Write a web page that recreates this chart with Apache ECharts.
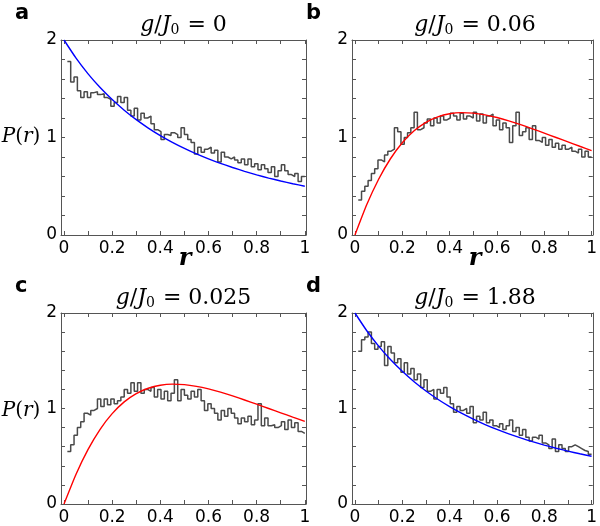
<!DOCTYPE html>
<html>
<head>
<meta charset="utf-8">
<script src="https://cdn.jsdelivr.net/npm/echarts@6/dist/echarts.min.js"></script>
<style>
  html, body { margin: 0; padding: 0; background: #fff; }
  #chart { width: 600px; height: 526px; }
</style>
</head>
<body>
<div id="chart"></div>
<script>
// 直方图：第一根柱从 r = 1/72 开始，每根宽 1/72
const binWidth = 1 / 72;

// a: g/J0 = 0
const histA = [
  1.78, 1.57, 1.62, 1.48, 1.41, 1.47, 1.41, 1.46, 1.47, 1.44,
  1.45, 1.41, 1.39, 1.32, 1.36, 1.42, 1.36, 1.41, 1.28, 1.22,
  1.30, 1.18, 1.25, 1.20, 1.22, 1.14, 1.08, 1.06, 0.98, 1.03,
  1.02, 1.05, 1.03, 1.00, 1.10, 1.03, 0.98, 0.95, 0.83, 0.90,
  0.85, 0.88, 0.90, 0.84, 0.87, 0.75, 0.85, 0.80, 0.78, 0.80,
  0.77, 0.74, 0.78, 0.72, 0.78, 0.70, 0.73, 0.67, 0.72, 0.68,
  0.64, 0.70, 0.60, 0.66, 0.72, 0.66, 0.62, 0.60, 0.63, 0.55,
  0.60
];
// b: g/J0 = 0.06
const histB = [
  0.36, 0.45, 0.50, 0.56, 0.63, 0.68, 0.77, 0.75, 0.82, 0.86,
  0.88, 1.10, 1.06, 0.93, 1.00, 1.05, 1.10, 1.26, 1.08, 1.10,
  1.15, 1.19, 1.12, 1.20, 1.15, 1.22, 1.18, 1.20, 1.25, 1.22,
  1.18, 1.25, 1.19, 1.22, 1.20, 1.26, 1.17, 1.24, 1.15, 1.22,
  1.24, 1.12, 1.18, 1.08, 1.15, 1.10, 0.95, 1.12, 1.26, 1.02,
  1.06, 1.10, 0.98, 1.12, 0.97, 0.95, 1.00, 0.92, 0.98, 0.90,
  0.94, 0.88, 0.92, 0.88, 0.90, 0.86, 0.84, 0.88, 0.80, 0.86,
  0.80
];
// c: g/J0 = 0.025
const histC = [
  0.55, 0.62, 0.72, 0.80, 0.86, 0.95, 0.93, 0.98, 1.00, 1.10,
  1.02, 1.10, 1.04, 1.10, 1.05, 1.08, 1.12, 1.20, 1.16, 1.27,
  1.18, 1.27, 1.16, 1.20, 1.18, 1.22, 1.12, 1.20, 1.10, 1.18,
  1.08, 1.16, 1.30, 1.08, 1.20, 1.14, 1.10, 1.18, 1.12, 1.20,
  1.08, 0.98, 1.05, 1.00, 0.95, 0.88, 0.98, 0.92, 1.00, 0.95,
  0.90, 0.84, 0.90, 0.86, 0.92, 0.83, 0.88, 1.05, 0.82, 0.90,
  0.82, 0.83, 0.80, 0.82, 0.86, 0.78, 0.88, 0.80, 0.85, 0.76,
  0.74
];
// d: g/J0 = 1.88
const histD = [
  1.60, 1.72, 1.75, 1.80, 1.68, 1.62, 1.65, 1.70, 1.45, 1.65,
  1.58, 1.48, 1.52, 1.38, 1.48, 1.36, 1.42, 1.30, 1.36, 1.22,
  1.30, 1.18, 1.20, 1.10, 1.20, 1.16, 1.22, 1.12, 1.05, 0.96,
  1.02, 0.98, 1.00, 0.95, 1.02, 0.85, 0.92, 0.88, 0.96, 0.85,
  0.88, 0.82, 0.80, 0.84, 0.78, 0.82, 0.88, 0.76, 0.80, 0.72,
  0.78, 0.70, 0.66, 0.70, 0.68, 0.72, 0.64, 0.62, 0.58, 0.68,
  0.55, 0.62, 0.58, 0.55, 0.60, 0.62, 0.60, 0.58, 0.56, 0.55,
  0.52
];

// 理论曲线（从图上读取，r 每 0.05 一个点）
const curveR = [0, 0.05, 0.1, 0.15, 0.2, 0.25, 0.3, 0.35, 0.4, 0.45, 0.5,
  0.55, 0.6, 0.65, 0.7, 0.75, 0.8, 0.85, 0.9, 0.95, 1];
const blueCurve = [2.000, 1.814, 1.653, 1.512, 1.389, 1.280, 1.183, 1.097, 1.020, 0.951, 0.889,
  0.832, 0.781, 0.734, 0.692, 0.653, 0.617, 0.584, 0.554, 0.526, 0.500];
const redCurve = [0.000, 0.312, 0.572, 0.782, 0.946, 1.069, 1.156, 1.212, 1.244, 1.255, 1.250,
  1.232, 1.205, 1.171, 1.132, 1.089, 1.045, 1.000, 0.955, 0.910, 0.866];

const panelLetters = ['a', 'b', 'c', 'd'];
const panelValues = ['0', '0.06', '0.025', '1.88'];
const xTicks = [0, 0.1, 0.2, 0.3, 0.4, 0.5, 0.6, 0.7, 0.8, 0.9, 1];
const xLabels = [0, 0.2, 0.4, 0.6, 0.8, 1];
const yLabels = [0, 1, 2];

const panels = [
  { hist: histA, curve: blueCurve, color: '#0000ff', grid: { left: 61, top: 40, width: 245, height: 195 } },
  { hist: histB, curve: redCurve, color: '#ff0000', grid: { left: 352, top: 40, width: 246, height: 195 } },
  { hist: histC, curve: redCurve, color: '#ff0000', grid: { left: 61, top: 313, width: 245, height: 195 } },
  { hist: histD, curve: blueCurve, color: '#0000ff', grid: { left: 352, top: 313, width: 246, height: 195 } }
];

const frameColor = '#555';
const serif = 'DejaVu Serif';

const chart = echarts.init(document.getElementById('chart'));

const grids = [], xAxes = [], yAxes = [], series = [], graphics = [];

panels.forEach((p, i) => {
  grids.push(p.grid);

  const xBase = {
    gridIndex: i, type: 'value', min: -0.0125, max: 1.005,
    axisLine: { onZero: false, lineStyle: { color: frameColor, width: 1 } },
    axisTick: { inside: true, length: 4, customValues: xTicks, lineStyle: { color: frameColor } },
    splitLine: { show: false }
  };
  xAxes.push(Object.assign({}, xBase, {
    position: 'bottom',
    axisLabel: { customValues: xLabels, margin: 5, fontFamily: 'DejaVu Sans', fontSize: 17, color: '#000' }
  }));
  xAxes.push(Object.assign({}, xBase, { position: 'top', axisLabel: { show: false } }));

  const yBase = {
    gridIndex: i, type: 'value', min: 0, max: 2, interval: 0.2,
    axisLine: { onZero: false, lineStyle: { color: frameColor, width: 1 } },
    axisTick: { inside: true, length: 4, lineStyle: { color: frameColor } },
    splitLine: { show: false }
  };
  yAxes.push(Object.assign({}, yBase, {
    position: 'left',
    axisLabel: { customValues: yLabels, margin: 4, fontFamily: 'DejaVu Sans', fontSize: 17, color: '#000' }
  }));
  yAxes.push(Object.assign({}, yBase, { position: 'right', axisLabel: { show: false } }));

  const histData = p.hist.map((v, k) => [(k + 1) * binWidth, v]);
  histData.push([1, p.hist[p.hist.length - 1]]);
  series.push({
    type: 'line', xAxisIndex: 2 * i, yAxisIndex: 2 * i,
    data: histData, step: 'end', showSymbol: false, animation: false,
    lineStyle: { color: '#4a4a4a', width: 1.5 }
  });
  series.push({
    type: 'line', xAxisIndex: 2 * i, yAxisIndex: 2 * i,
    data: curveR.map((r, k) => [r, p.curve[k]]), smooth: 0.2, showSymbol: false, animation: false,
    lineStyle: { color: p.color, width: 1.4 }
  });

  // 标题 g/J0 = ...
  const cx = p.grid.left + p.grid.width / 2;
  graphics.push({
    type: 'text', x: cx, y: p.grid.top - 15,
    style: {
      text: '{i|g}{n|/}{i|J}{s|0}{n| = ' + panelValues[i] + '}',
      align: 'center', verticalAlign: 'middle',
      rich: {
        i: { fontFamily: serif, fontStyle: 'italic', fontSize: 22, fill: '#000' },
        n: { fontFamily: serif, fontSize: 22, fill: '#000' },
        s: { fontFamily: serif, fontSize: 14, fill: '#000', padding: [11, 1, 0, 0] }
      }
    }
  });

  // 面板字母
  graphics.push({
    type: 'text', x: p.grid.left - 46, y: p.grid.top - 37,
    style: { text: panelLetters[i], font: 'bold 21px "DejaVu Sans"', fill: '#000' }
  });
});

// 纵轴标题 P(r)
[137, 411].forEach(y => {
  graphics.push({
    type: 'text', x: 21, y: y,
    style: {
      text: '{i|P}{n|(}{i|r}{n|)}', align: 'center', verticalAlign: 'middle',
      rich: {
        i: { fontFamily: serif, fontStyle: 'italic', fontSize: 20, fill: '#000' },
        n: { fontFamily: serif, fontSize: 20, fill: '#000' }
      }
    }
  });
});

// 横轴标题 r
[185, 475].forEach(x => {
  graphics.push({
    type: 'text', x: x, y: 259,
    style: { text: 'r', font: 'italic bold 24px "DejaVu Serif"', fill: '#000', align: 'center', verticalAlign: 'middle' }
  });
});

chart.setOption({
  backgroundColor: '#fff',
  animation: false,
  grid: grids,
  xAxis: xAxes,
  yAxis: yAxes,
  series: series,
  graphic: graphics
});
</script>
</body>
</html>
